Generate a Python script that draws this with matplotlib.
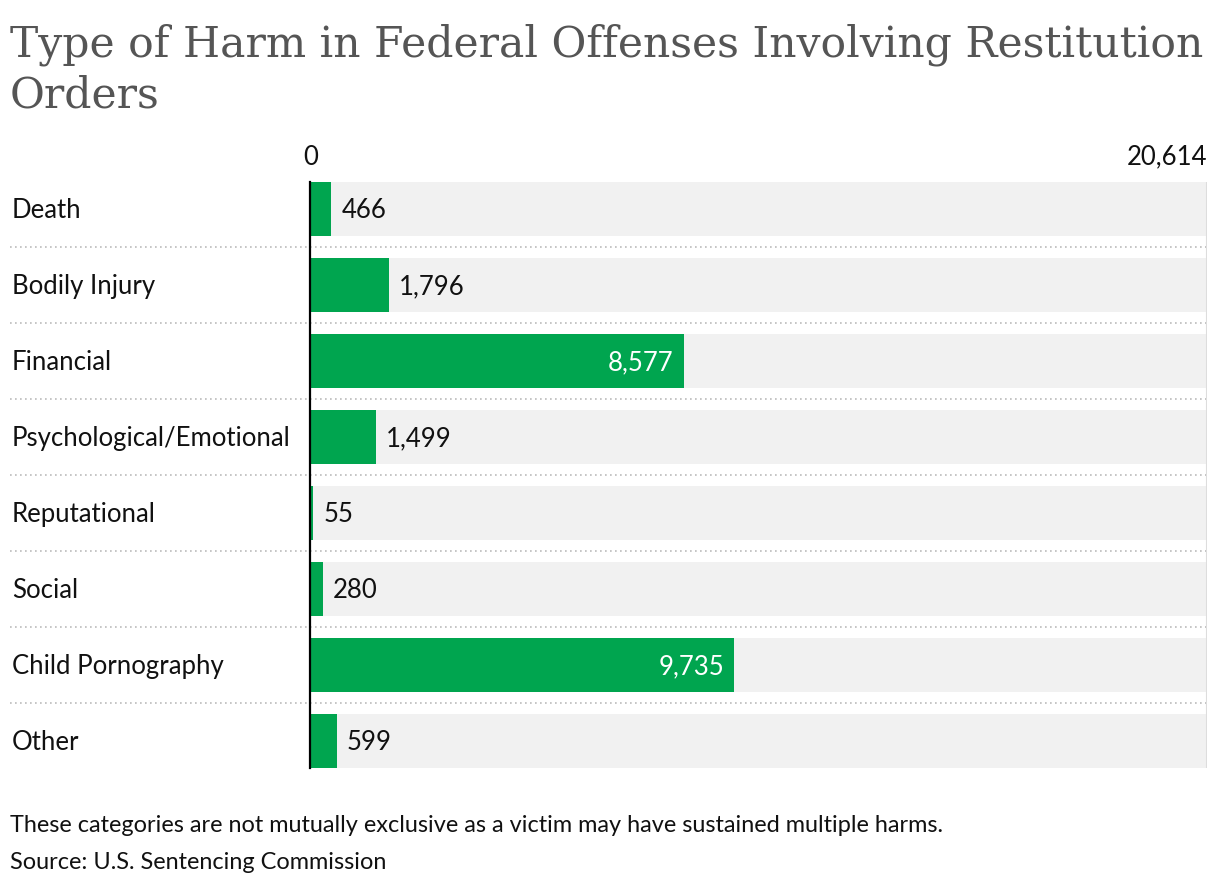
import matplotlib.pyplot as plt

plt.rcParams["font.family"] = ["Lato", "DejaVu Sans"]

categories = ["Death", "Bodily Injury", "Financial", "Psychological/Emotional",
              "Reputational", "Social", "Child Pornography", "Other"]
values = [466, 1796, 8577, 1499, 55, 280, 9735, 599]
axis_max = 20614

GREEN, GREY, INK = "#00a54f", "#f1f1f1", "#111111"
FS = 18.5

fig = plt.figure(figsize=(12.2, 8.88), dpi=100)
ax = fig.add_axes([311 / 1220, 1 - 768 / 888, (1207 - 311) / 1220, (768 - 182) / 888])

y = list(range(len(categories)))
ax.barh(y, [axis_max] * len(y), height=0.71, color=GREY, zorder=1)
ax.barh(y, values, height=0.71, color=GREEN, zorder=2)
ax.set_xlim(0, axis_max)
ax.set_ylim(len(y) - 1 + 0.355, -0.355)
ax.axis("off")
# zero line sits just left of the bars
ax.plot([-0.0012, -0.0012], [0, 1], transform=ax.transAxes, color="black", lw=1.6,
        clip_on=False, zorder=3)
ax.axvline(axis_max, color="#dddddd", lw=1.5, zorder=3)

lab_x = -(311 - 12) / 896
for i, (cat, v) in enumerate(zip(categories, values)):
    ax.text(lab_x, i + 0.02, cat, transform=ax.get_yaxis_transform(), ha="left", va="center",
            fontsize=FS, color=INK)
    label = f"{v:,}"
    if v > 5000:
        ax.text(v - 230, i + 0.02, label, ha="right", va="center", fontsize=FS, color="white", zorder=4)
    else:
        ax.text(v + 230, i + 0.02, label, ha="left", va="center", fontsize=FS, color=INK, zorder=4)
    if i < len(y) - 1:
        ax.plot([-(311 - 10) / 896, 1.0], [i + 0.5, i + 0.5], transform=ax.get_yaxis_transform(),
                color="#bbbbbb", lw=1.2, ls=(0, (1, 2)), clip_on=False, zorder=0)

ax.text(0, -0.68, "0", ha="center", va="center", fontsize=FS, color=INK)
ax.text(axis_max, -0.68, f"{axis_max:,}", ha="right", va="center", fontsize=FS, color=INK)

# title: two lines, first line scaled to span the width like the reference
t1 = fig.text(10 / 1220, 1 - 57 / 888, "Type of Harm in Federal Offenses Involving Restitution",
              ha="left", va="baseline", fontsize=30, color="#555555", family="DejaVu Serif")
fig.canvas.draw()
w = t1.get_window_extent().width
tfs = 30 * 1195 / w
t1.set_fontsize(tfs)
fig.text(10 / 1220, 1 - 107 / 888, "Orders", ha="left", va="baseline", fontsize=tfs,
         color="#555555", family="DejaVu Serif")

fig.text(10 / 1220, 1 - 825 / 888,
         "These categories are not mutually exclusive as a victim may have sustained multiple harms.",
         ha="left", va="center", fontsize=16.9, color=INK)
fig.text(10 / 1220, 1 - 862 / 888, "Source: U.S. Sentencing Commission",
         ha="left", va="center", fontsize=16.9, color=INK)

fig.savefig("out.png", dpi=100)
